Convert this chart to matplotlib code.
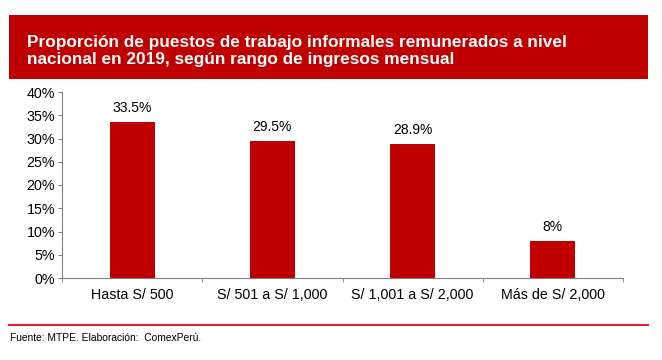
import matplotlib.pyplot as plt
from matplotlib.patches import Rectangle
from matplotlib.lines import Line2D
from matplotlib.ticker import FuncFormatter

plt.rcParams['font.family'] = ['Liberation Sans', 'DejaVu Sans']

# data
categories = ['Hasta S/ 500', 'S/ 501 a S/ 1,000', 'S/ 1,001 a S/ 2,000', 'Más de S/ 2,000']
values = [33.5, 29.5, 28.9, 8.0]
value_labels = ['33.5%', '29.5%', '28.9%', '8%']
title_lines = ['Proporción de puestos de trabajo informales remunerados a nivel',
               'nacional en 2019, según rango de ingresos mensual']

red = '#C00000'

fig = plt.figure(figsize=(6.62, 3.6), dpi=100)

# title box
fig.patches.append(Rectangle((9 / 662, 1 - 79 / 360), 639 / 662, 64 / 360,
                             transform=fig.transFigure, facecolor=red, edgecolor='none'))
for line, base in zip(title_lines, [47, 64]):
    fig.text(27 / 662, 1 - base / 360, line, color='white', fontsize=12.4,
             fontweight='bold', va='baseline', ha='left')

ax = fig.add_axes([62 / 662, 1 - 278 / 360, 561 / 662, 186 / 360])
x = range(len(categories))
bars = ax.bar(x, values, width=0.32, color=red)
for xi, v, lab in zip(x, values, value_labels):
    ax.text(xi, v + 1.5, lab, ha='center', va='bottom', fontsize=10)

ax.set_xlim(-0.5, len(categories) - 0.5)
ax.set_ylim(0, 40)
ax.set_yticks(range(0, 41, 5))
ax.yaxis.set_major_formatter(FuncFormatter(lambda v, p: f'{v:.0f}%'))
ax.set_xticks(list(x))
ax.set_xticklabels(categories)
ax.set_xticks([i - 0.5 for i in range(len(categories) + 1)], minor=True)
ax.tick_params(axis='x', which='major', length=0, labelsize=10.3, pad=7)
ax.tick_params(axis='x', which='minor', length=3, color='#808080')
ax.tick_params(axis='y', length=3, color='#808080', labelsize=10.3, pad=2)
for s in ['top', 'right']:
    ax.spines[s].set_visible(False)
for s in ['left', 'bottom']:
    ax.spines[s].set_color('#808080')

# bottom line and source
fig.lines.append(Line2D([9 / 662, 648 / 662], [1 - 325 / 360] * 2,
                        transform=fig.transFigure, color='#E0203A', lw=1.5))
fig.text(10 / 662, 1 - 338 / 360, 'Fuente: MTPE. Elaboración:  ComexPerú.',
         fontsize=7.4, va='center', ha='left')

fig.savefig('out.png', dpi=100)
